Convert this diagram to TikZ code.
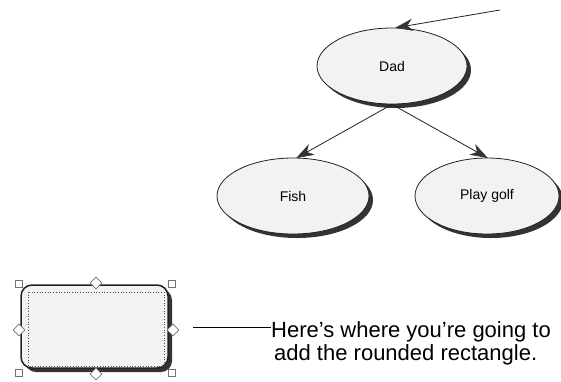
\documentclass[tikz,border=0pt]{standalone}
\usepackage{fontspec}
\setmainfont{Liberation Sans}
\usetikzlibrary{calc,shapes.geometric,shadows}
\definecolor{shapefill}{HTML}{F2F2F2}
\definecolor{shade}{HTML}{333333}
\definecolor{edge}{HTML}{222222}
\tikzset{
  oval/.style={ellipse, draw=edge, line width=0.8pt, fill=shapefill, inner sep=0pt,
    minimum width=150pt, minimum height=76pt, font=\fontsize{14}{16}\selectfont,
    drop shadow={shadow xshift=4pt, shadow yshift=-4pt, fill=shade, opacity=1}},
  link/.style={draw=edge, line width=0.8pt},
  head/.style={fill=shade, draw=shade, line width=0.5pt, line join=miter},
  sq/.style={draw=black!55, fill=white, line width=0.6pt, minimum size=7pt, inner sep=0pt},
  dia/.style={diamond, draw=black!55, fill=white, line width=0.6pt, minimum size=12pt, inner sep=0pt},
  caption/.style={font=\fontsize{22}{23}\selectfont, inner sep=0pt, anchor=base west}
}
% #1 = start, #2 = tip
\newcommand\myarrowlink[2]{%
  \draw[link] (#1) -- (#2);
  \fill[head] (#2) -- ($(#2)!16pt!(#1)!5.5pt!90:(#1)$) -- ($(#2)!11pt!(#1)$)
     -- ($(#2)!16pt!(#1)!5.5pt!-90:(#1)$) -- cycle;}
\begin{document}
\begin{tikzpicture}[x=1pt,y=-1pt]
\useasboundingbox (0,0) rectangle (561,381);
% ellipses
\node[oval] (dad) at (392,66) {Dad};
\node[oval, minimum width=152pt] (fish) at (293,196) {Fish};
\node[oval, minimum width=144pt] (golf) at (487,196) {Play golf};
% connectors
\coordinate (src) at (500,10);
\coordinate (dadtop) at (dad.84);
\coordinate (dadbot) at (dad.south);
\coordinate (fishtop) at (fish.84);
\coordinate (golftop) at (golf.north);
\myarrowlink{src}{dadtop}
\myarrowlink{dadbot}{fishtop}
\myarrowlink{dadbot}{golftop}
% rounded rectangle
\node[rectangle, rounded corners=11pt, draw=edge, line width=1.5pt, fill=shapefill,
      minimum width=147pt, minimum height=83pt, inner sep=0pt,
      drop shadow={shadow xshift=4pt, shadow yshift=-4pt, fill=shade, opacity=1}]
      (rr) at (94.5,326.5) {};
\draw[dotted, line width=0.7pt, black!70] (28,292) rectangle (164,366);
% selection handles
\node[sq] (h1) at (19,284) {};
\node[sq] (h2) at (172,284) {};
\node[sq] (h3) at (19,373) {};
\node[sq] (h4) at (172,373) {};
\node[dia] (d1) at (96,283) {};
\node[dia] (d2) at (96,374) {};
\node[dia] (d3) at (19,330) {};
\node[dia] (d4) at (173,330) {};
% caption
\node[caption] (line1) at (271,337) {Here’s where you’re going to};
\node[caption] (line2) at (274,360) {add the rounded rectangle.};
\coordinate (lead) at (193,327);
\draw[line width=1pt] (lead) -- (lead -| line1.west);
\end{tikzpicture}
\end{document}
